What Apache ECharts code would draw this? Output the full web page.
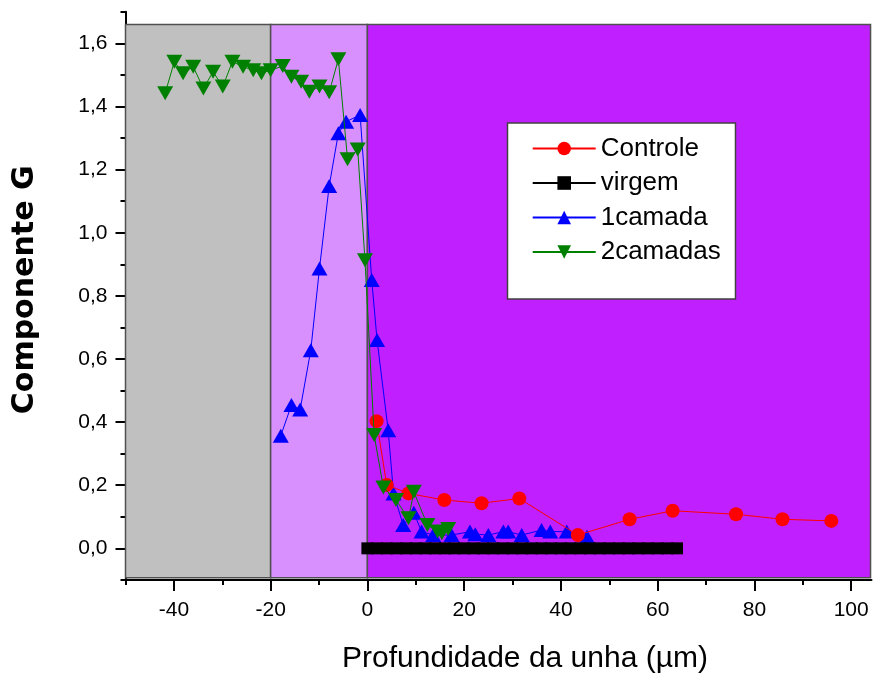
<!DOCTYPE html>
<html>
<head>
<meta charset="utf-8">
<script src="https://cdn.jsdelivr.net/npm/echarts@6/dist/echarts.min.js"></script>
<style>
  html, body { margin: 0; padding: 0; background: #fff; }
  #chart { width: 888px; height: 675px; }
</style>
</head>
<body>
<div id="chart"></div>
<script>
// Depth (µm) and G component for each sample
const controleX = [1.9, 4.0, 8.5, 15.9, 23.6, 31.4, 43.5, 54.2, 63.1, 76.2, 85.8, 95.9];
const controleY = [0.403, 0.201, 0.174, 0.153, 0.143, 0.158, 0.042, 0.092, 0.119, 0.108, 0.092, 0.087];

const virgemX = [0, 2, 4, 6, 8, 10, 12, 14, 16, 18, 20, 22, 24, 26, 28, 30, 32,
                 34, 36, 38, 40, 42, 44, 46, 48, 50, 52, 54, 56, 58, 60, 62, 64];
const virgemY = [0, 0, 0, 0, 0, 0, 0, 0, 0, 0, 0, 0, 0, 0, 0, 0, 0,
                 0, 0, 0, 0, 0, 0, 0, 0, 0, 0, 0, 0, 0, 0, 0, 0];

const camada1X = [-17.9, -15.7, -13.9, -11.7, -9.9, -7.9, -6.0, -4.4, -1.5, 0.9, 2.0, 4.3,
                  5.4, 7.4, 9.6, 11.2, 13.6, 17.4, 21.2, 22.3, 25.0, 28.1, 29.1, 31.9,
                  36.0, 37.8, 41.2, 45.4];
const camada1Y = [0.357, 0.454, 0.440, 0.628, 0.887, 1.148, 1.315, 1.352, 1.373, 0.850, 0.660, 0.374,
                  0.174, 0.074, 0.113, 0.053, 0.042, 0.042, 0.053, 0.045, 0.042, 0.053, 0.053, 0.042,
                  0.058, 0.053, 0.053, 0.037];

const camadas2X = [-41.8, -39.9, -38.1, -36.0, -33.9, -31.9, -29.9, -27.9, -25.7, -23.6, -21.9,
                   -20.0, -17.5, -15.7, -13.7, -12.0, -9.9, -7.9, -6.0, -4.1, -2.0, -0.5,
                   1.4, 3.3, 5.9, 8.5, 9.6, 12.4, 14.5, 15.4, 16.7];
const camadas2Y = [1.442, 1.542, 1.505, 1.526, 1.457, 1.510, 1.463, 1.542, 1.526, 1.515, 1.505,
                   1.515, 1.528, 1.494, 1.478, 1.447, 1.463, 1.445, 1.550, 1.233, 1.264, 0.913,
                   0.359, 0.193, 0.153, 0.095, 0.179, 0.074, 0.053, 0.048, 0.061];

// Shaded depth zones (µm) and their vertical span
const zoneEdges = [-50, -20, 0, 104];
const zoneTop = 1.66;
const zoneBottom = -0.093;

// Axis ticks
const xMajorTicks = [-40, -20, 0, 20, 40, 60, 80, 100];
const xMinorTicks = [-50, -30, -10, 10, 30, 50, 70, 90];
const yMajorTicks = [0, 0.2, 0.4, 0.6, 0.8, 1.0, 1.2, 1.4, 1.6];
const yMinorTicks = [-0.1, 0.1, 0.3, 0.5, 0.7, 0.9, 1.1, 1.3, 1.5, 1.7];

const xMin = -50, xMax = 104.2;
const yMin = -0.1, yMax = 1.7;

const zip = (xs, ys) => xs.map((x, i) => [x, ys[i]]);
const zoneColors = ['#C0C0C0', '#D890FF', '#C020FF'];

const zones = [];
for (let i = 0; i < zoneEdges.length - 1; i++) {
  zones.push([
    { xAxis: zoneEdges[i], yAxis: zoneBottom, itemStyle: { color: zoneColors[i] } },
    { xAxis: zoneEdges[i + 1], yAxis: zoneTop }
  ]);
}

const FONT = "'Liberation Sans', Arial, sans-serif";
const commaFmt = v => v.toFixed(1).replace('.', ',');

const chart = echarts.init(document.getElementById('chart'), null, { renderer: 'canvas' });

chart.setOption({
  animation: false,
  backgroundColor: '#ffffff',
  grid: { left: 125.5, right: 16.5, top: 11.8, bottom: 95.1, containLabel: false, outerBoundsMode: 'none' },
  xAxis: [
    {
      type: 'value', min: xMin, max: xMax,
      axisLine: { show: true, onZero: false, lineStyle: { color: '#000', width: 2 } },
      axisTick: { show: true, length: 11, customValues: xMajorTicks, lineStyle: { color: '#000', width: 2 } },
      axisLabel: { customValues: xMajorTicks, margin: 20, color: '#000', fontSize: 21, fontFamily: FONT },
      splitLine: { show: false },
      name: 'Profundidade da unha (µm)', nameLocation: 'middle', nameGap: 64,
      nameTextStyle: { color: '#000', fontSize: 30, fontFamily: FONT, padding: [0, 0, 0, 53] }
    },
    {
      type: 'value', min: xMin, max: xMax, position: 'bottom',
      axisLine: { show: false, onZero: false },
      axisTick: { show: true, length: 5, customValues: xMinorTicks, lineStyle: { color: '#000', width: 2 } },
      axisLabel: { show: false },
      splitLine: { show: false }
    }
  ],
  yAxis: [
    {
      type: 'value', min: yMin, max: yMax,
      axisLine: { show: true, onZero: false, lineStyle: { color: '#000', width: 2 } },
      axisTick: { show: true, length: 10, customValues: yMajorTicks, lineStyle: { color: '#000', width: 2 } },
      axisLabel: { customValues: yMajorTicks, margin: 18, color: '#000', fontSize: 21, fontFamily: FONT,
                   formatter: commaFmt },
      splitLine: { show: false },
      name: 'Componente G', nameLocation: 'middle', nameGap: 85,
      nameTextStyle: { color: '#000', fontSize: 30, fontWeight: 'bold', fontFamily: "'DejaVu Sans', sans-serif",
                       padding: [0, 0, 0, 12] }
    },
    {
      type: 'value', min: yMin, max: yMax, position: 'left',
      axisLine: { show: false, onZero: false },
      axisTick: { show: true, length: 5, customValues: yMinorTicks, lineStyle: { color: '#000', width: 2 } },
      axisLabel: { show: false },
      splitLine: { show: false }
    }
  ],
  legend: {
    orient: 'vertical', left: 526.7, top: 130.5,
    itemWidth: 63, itemHeight: 17, itemGap: 8.5, itemTextGap: 8,
    data: ['Controle', 'virgem', '1camada', '2camadas'],
    textStyle: { color: '#000', fontSize: 26, lineHeight: 26, fontFamily: FONT },
    z: 20
  },
  graphic: [{
    type: 'rect', z: 15,
    shape: { x: 507.5, y: 123, width: 228, height: 176 },
    style: { fill: '#ffffff', stroke: '#404040', lineWidth: 1.5 }
  }],
  series: [
    {
      name: 'zones', type: 'line', data: [], z: 0, silent: true,
      markArea: {
        silent: true,
        itemStyle: { borderColor: '#505050', borderWidth: 1.5 },
        data: zones
      }
    },
    {
      name: '1camada', type: 'line', z: 2,
      data: zip(camada1X, camada1Y),
      symbol: 'triangle', symbolSize: [16, 14],
      itemStyle: { color: '#0000FF' },
      lineStyle: { color: '#0000FF', width: 1 }
    },
    {
      name: 'Controle', type: 'line', z: 3,
      data: zip(controleX, controleY),
      symbol: 'circle', symbolSize: 14,
      itemStyle: { color: '#FF0000' },
      lineStyle: { color: '#FF0000', width: 1 }
    },
    {
      name: '2camadas', type: 'line', z: 4,
      data: zip(camadas2X, camadas2Y),
      symbol: 'path://M0,0 L2,0 L1,1.75 Z', symbolSize: [16, 14],
      itemStyle: { color: '#008000' },
      lineStyle: { color: '#008000', width: 1 }
    },
    {
      name: 'virgem', type: 'line', z: 5,
      data: zip(virgemX, virgemY),
      symbol: 'rect', symbolSize: 12,
      itemStyle: { color: '#000000' },
      lineStyle: { color: '#000000', width: 1 }
    }
  ]
});
</script>
</body>
</html>
